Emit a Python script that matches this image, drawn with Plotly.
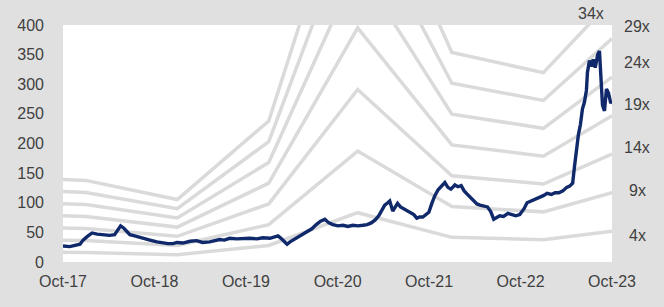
import plotly.graph_objects as go

# ---- data ----
price_dates = [
    "2017-10-01","2017-10-28","2017-12-08","2017-12-20","2018-01-09","2018-01-25","2018-02-14","2018-03-08",
    "2018-04-05","2018-04-25","2018-05-07","2018-05-19","2018-06-01","2018-06-13","2018-06-25","2018-07-14",
    "2018-08-04","2018-08-24","2018-09-13","2018-10-11","2018-11-04","2018-11-24","2018-12-14","2018-12-30",
    "2019-01-22","2019-02-20","2019-03-18","2019-04-11","2019-05-09","2019-05-29","2019-06-18","2019-07-07",
    "2019-07-28","2019-08-25","2019-09-18","2019-10-16","2019-11-14","2019-12-07","2020-01-05","2020-01-25",
    "2020-02-06","2020-02-18","2020-03-01","2020-03-13","2020-03-25","2020-04-10","2020-04-25","2020-05-10",
    "2020-06-01","2020-06-20","2020-07-10","2020-07-25","2020-08-11","2020-08-27","2020-09-12","2020-10-02",
    "2020-10-22","2020-11-11","2020-12-01","2020-12-21","2021-01-10","2021-01-27","2021-02-12","2021-02-28",
    "2021-03-14","2021-03-26","2021-04-07","2021-04-19","2021-04-27","2021-05-09","2021-05-21","2021-05-28",
    "2021-06-09","2021-06-21","2021-07-03","2021-07-16","2021-08-01","2021-08-13","2021-08-25","2021-09-06",
    "2021-09-18","2021-09-30","2021-10-12","2021-10-24","2021-11-06","2021-11-18","2021-12-03","2021-12-15",
    "2021-12-27","2022-01-12","2022-01-24","2022-02-06","2022-02-18","2022-03-01","2022-03-13","2022-03-25",
    "2022-04-10","2022-04-22","2022-05-07","2022-05-22","2022-06-04","2022-06-16","2022-06-28","2022-07-10",
    "2022-07-25","2022-08-12","2022-08-28","2022-09-12","2022-09-28","2022-10-15","2022-10-27","2022-11-12",
    "2022-11-28","2022-12-13","2022-12-31","2023-01-15","2023-02-01","2023-02-16","2023-03-03","2023-03-19",
    "2023-04-03","2023-04-15","2023-04-27","2023-05-04","2023-05-12","2023-05-20","2023-05-28","2023-06-05",
    "2023-06-13","2023-06-21","2023-06-25","2023-07-03","2023-07-11","2023-07-18","2023-07-26","2023-08-05",
    "2023-08-12","2023-08-20","2023-08-24","2023-09-01","2023-09-09","2023-09-17","2023-09-26","2023-09-30",
]
price_values = [
    27, 26, 30, 37, 44, 49, 47, 46,
    45, 46, 54, 61, 57, 52, 46, 44,
    42, 39, 37, 34, 32, 31, 31, 33,
    32, 35, 36, 33, 34, 36, 38, 37,
    40, 39, 40, 40, 39, 41, 40, 42,
    44, 40, 35, 30, 34, 38, 43, 46,
    51, 56, 64, 69, 72, 66, 63, 61,
    62, 60, 62, 61, 62, 63, 66, 71,
    78, 86, 96, 100, 103, 86, 95, 99,
    93, 90, 88, 85, 80, 74, 76, 76,
    80, 84, 99, 112, 122, 128, 134, 126,
    123, 130, 127, 129, 120, 115, 110, 104,
    98, 96, 94, 93, 85, 72, 75, 78,
    77, 82, 80, 78, 80, 90, 100, 103,
    106, 108, 112, 116, 114, 117, 117, 120,
    126, 128, 133, 160, 195, 215, 232, 258,
    270, 290, 320, 340, 330, 342, 328, 350,
    356, 305, 265, 255, 292, 285, 268, 270,
]

eps_dates = ["2017-10-01", "2017-12-31", "2018-12-31", "2019-12-31",
             "2020-12-20", "2021-12-31", "2022-12-31", "2023-10-01"]
eps_values = [4.1, 4.05, 3.1, 7.0, 20.8, 10.4, 9.4, 13.0]

multiples = [4, 9, 14, 19, 24, 29, 34]
multiple_labels = ["4x", "9x", "14x", "19x", "24x", "29x", "34x"]

tick_dates = ["2017-10-01", "2018-10-01", "2019-10-01", "2020-10-01",
              "2021-10-01", "2022-10-01", "2023-10-01"]
tick_labels = ["Oct-17", "Oct-18", "Oct-19", "Oct-20", "Oct-21", "Oct-22", "Oct-23"]

# ---- styling ----
FONT = "Liberation Sans, Arial, sans-serif"
TEXT = "#404040"
BAND = "#dadada"
NAVY = "#10296b"
BG = "#e0e0e0"

fig = go.Figure()
for m in multiples:
    fig.add_trace(go.Scatter(
        x=eps_dates, y=[m * e for e in eps_values], mode="lines",
        line=dict(color=BAND, width=3.5), hoverinfo="skip", showlegend=False))

fig.add_trace(go.Scatter(
    x=price_dates, y=price_values, mode="lines",
    line=dict(color=NAVY, width=3.4), showlegend=False))

# label placements (data units on the left axis) for band labels at the right
label_y = [44, 121.5, 194, 265, 336, 397]
for lab, yv in zip(multiple_labels[:-1], label_y):
    fig.add_annotation(x=1.0, xref="paper", xanchor="center", xshift=25,
                       y=yv, yref="y", text=lab, showarrow=False,
                       font=dict(family=FONT, size=16, color=TEXT))
fig.add_annotation(x=(591 - 63) / (612 - 63), xref="paper", xanchor="center",
                   y=1.0, yref="paper", text=multiple_labels[-1], showarrow=False,
                   font=dict(family=FONT, size=16, color=TEXT),
                   yanchor="bottom", yshift=1)

fig.update_layout(
    width=664, height=307,
    margin=dict(l=63, r=52, t=25, b=45, autoexpand=False),
    paper_bgcolor=BG, plot_bgcolor="white",
    font=dict(family=FONT, size=16, color=TEXT),
    xaxis=dict(range=["2017-10-01", "2023-10-01"], tickvals=tick_dates, ticktext=tick_labels,
               showgrid=False, zeroline=False, showline=False, ticks="",
               ticklabelstandoff=8, tickfont=dict(family=FONT, size=16, color=TEXT)),
    yaxis=dict(range=[0, 400], dtick=50, showgrid=False, zeroline=False, showline=False,
               ticks="", ticklabelstandoff=18, tickfont=dict(family=FONT, size=16, color=TEXT)),
)

fig.write_html("out.html", config={"displayModeBar": False},
               post_script="document.body.style.margin='0px';")
